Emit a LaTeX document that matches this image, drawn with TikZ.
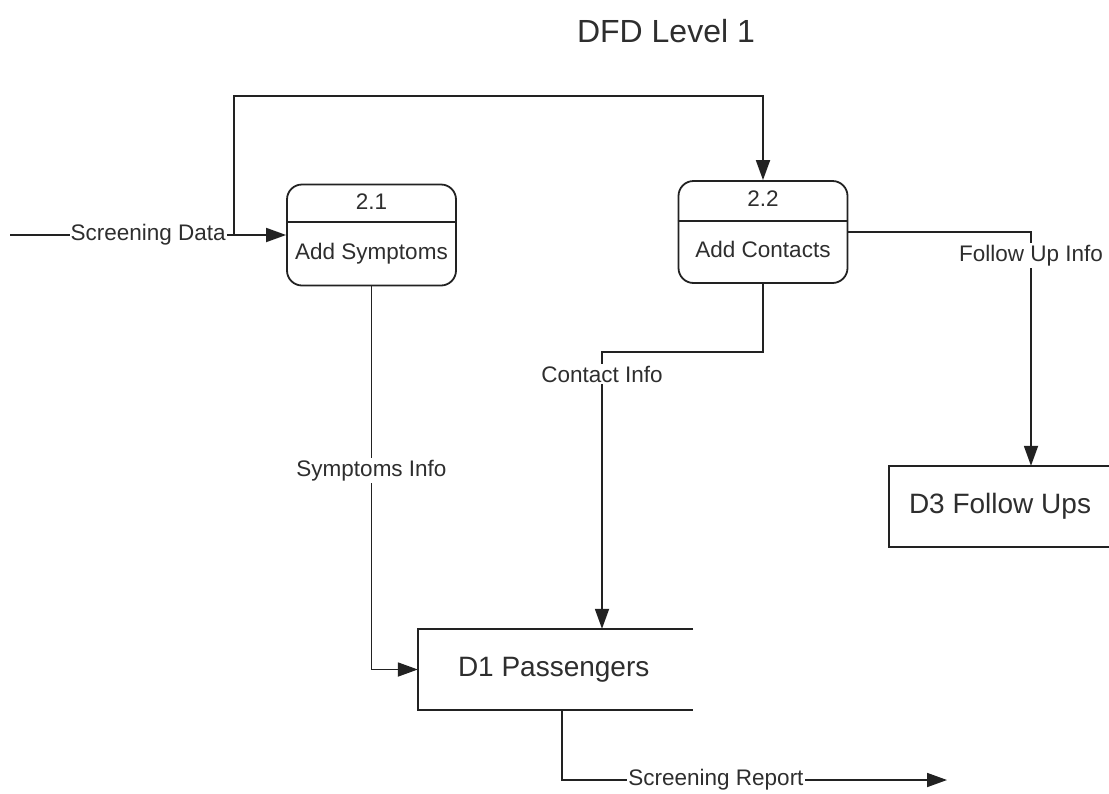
\documentclass[tikz,border=0pt]{standalone}
\usepackage{fontspec}
\setmainfont{Liberation Sans}
\usetikzlibrary{arrows.meta,calc}
\definecolor{ink}{HTML}{222222}
\definecolor{txt}{HTML}{2E2E2E}
\tikzset{
  every node/.style={text=txt},
  proc/.style={draw=ink, line width=1.8pt, rounded corners=15pt, minimum width=169pt, inner sep=0pt},
  ptxt/.style={font=\fontsize{22.5}{27}\selectfont, inner sep=0pt},
  store/.style={font=\fontsize{28}{33}\selectfont, minimum height=81pt, align=left, inner ysep=0pt},
  openbox/.style={draw=ink, line width=1.8pt},
  flow/.style={draw=ink, line width=1.8pt, -{Triangle[length=20pt,width=14pt]}},
  wire/.style={draw=ink, line width=1.8pt},
  lbl/.style={font=\fontsize{22.5}{27}\selectfont, fill=white, inner xsep=1pt, inner ysep=2pt},
}
\begin{document}
\begin{tikzpicture}[x=1pt,y=-1pt]
\useasboundingbox[fill=white] (0,0) rectangle (1109,793);

% title
\node[font=\fontsize{32}{38}\selectfont] (title) at (666,31) {DFD Level 1};

% processes
\node[proc, minimum height=101pt] (p21) at (371.5,235) {};
\draw[wire] ($(p21.north west)+(0,38.5)$) -- ($(p21.north east)+(0,38.5)$);
\node[ptxt] (p21n) at ($(p21.north)+(0,18.5)$) {2.1};
\node[ptxt] (p21t) at ($(p21.north)+(0,70.5)$) {Add Symptoms};

\node[proc, minimum height=102pt] (p22) at (763,232) {};
\draw[wire] ($(p22.north west)+(0,41)$) -- ($(p22.north east)+(0,41)$);
\node[ptxt] (p22n) at ($(p22.north)+(0,19)$) {2.2};
\node[ptxt] (p22t) at ($(p22.north)+(0,69)$) {Add Contacts};

% data stores (open on the right)
\node[store, inner xsep=0pt, text width=195pt, minimum width=275pt] (d1) at (555.5,669.5) {};
\node[font=\fontsize{28}{33}\selectfont, anchor=west, inner sep=0pt] (d1t) at ($(d1.west)+(40,0)$) {D1 Passengers};
\draw[openbox] (d1.north east) -- (d1.north west) -- (d1.south west) -- (d1.south east);

\node[store, inner xsep=0pt, text width=240pt, minimum width=240pt] (d3) at (1009,506.5) {};
\node[font=\fontsize{28}{33}\selectfont, anchor=west, inner sep=0pt] (d3t) at ($(d3.west)+(20,0)$) {D3 Follow Ups};
\draw[openbox] (d3.north east) -- (d3.north west) -- (d3.south west) -- (d3.south east);

% helper points for the flows
\coordinate (src) at (10,235);
\coordinate (split) at (234,235);
\coordinate (topline) at (0,96);
\coordinate (cbend) at (0,352);
\coordinate (cx) at (602,0);
\coordinate (fx) at (1031,0);
\coordinate (rx) at (562,0);
\coordinate (rep) at (947,780);

% flows
\draw[flow] (src) -- node[lbl] {Screening Data} (p21.west);
\draw[flow] (split) -- (split |- topline) -| (p22.north);
\draw[flow] (p21.south) |- node[lbl, pos=0.24] {Symptoms Info} (d1.west);
\draw[flow] (p22.south) -- (p22.south |- cbend) -- (cx |- cbend)
  -- node[lbl, pos=0.08] {Contact Info} (cx |- d1.north);
\draw[flow] (p22.east) -- (fx |- p22.east)
  -- node[lbl, pos=0.1] {Follow Up Info} (fx |- d3.north);
\draw[flow] (rx |- d1.south) -- (rx |- rep)
  -- node[lbl, pos=0.4] {Screening Report} (rep);
\end{tikzpicture}
\end{document}
